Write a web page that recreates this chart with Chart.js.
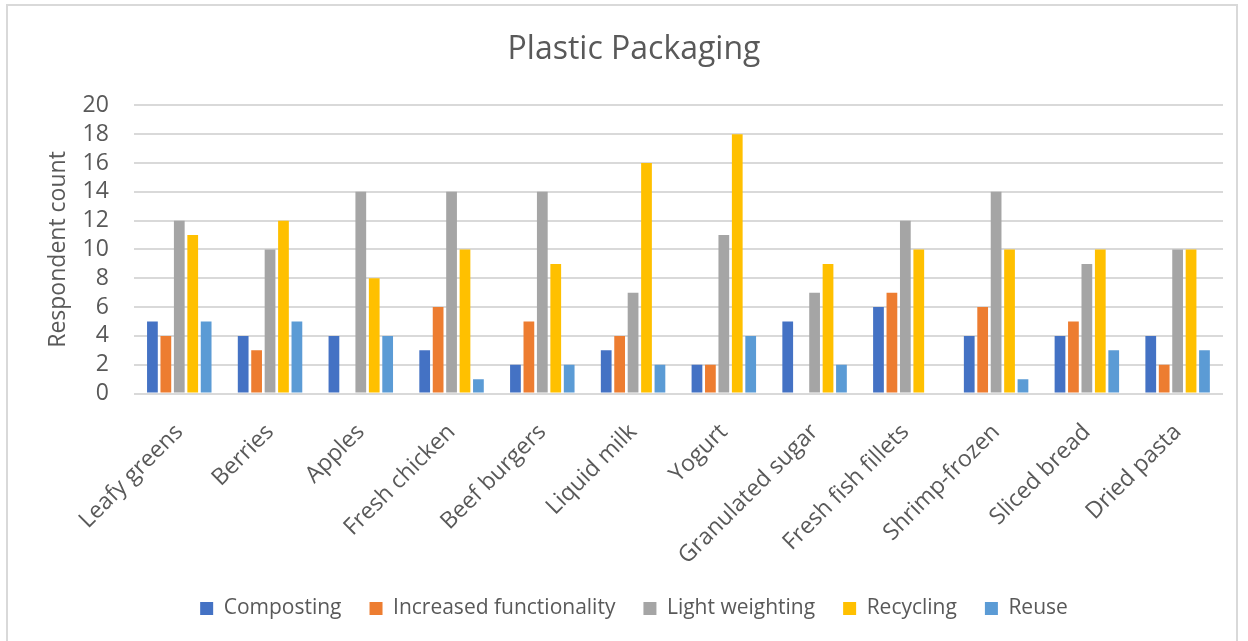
<!DOCTYPE html>
<html>
<head>
<meta charset="utf-8">
<script src="https://cdn.jsdelivr.net/npm/chart.js@4.4.1/dist/chart.umd.min.js"></script>
<style>
  html, body { margin: 0; padding: 0; background: #fff; }
  #frame {
    position: absolute; left: 6px; top: 4px; width: 1232px; height: 660px;
    border: 2px solid #d9d9d9; box-sizing: border-box;
  }
  #wrap { position: absolute; left: 0; top: 0; width: 1248px; height: 641px; }
</style>
</head>
<body>
<div id="frame"></div>
<div id="wrap"><canvas id="graphCanvas" width="1248" height="641"></canvas></div>
<script>
// categories and responses per packaging strategy
var foods = ['Leafy greens', 'Berries', 'Apples', 'Fresh chicken', 'Beef burgers', 'Liquid milk',
	'Yogurt', 'Granulated sugar', 'Fresh fish fillets', 'Shrimp-frozen', 'Sliced bread', 'Dried pasta'];

var composting    = [5, 4, 4, 3, 2, 3, 2, 5, 6, 4, 4, 4];
var functionality = [4, 3, 0, 6, 5, 4, 2, 0, 7, 6, 5, 2];
var lightWeight   = [12, 10, 14, 14, 14, 7, 11, 7, 12, 14, 9, 10];
var recycling     = [11, 12, 8, 10, 9, 16, 18, 9, 10, 10, 10, 10];
var reuse         = [5, 5, 4, 1, 2, 2, 4, 2, 0, 1, 3, 3];

var yTicks = [0, 2, 4, 6, 8, 10, 12, 14, 16, 18, 20];

let plotColors = {
	composting: '#4472C4',
	functionality: '#ED7D31',
	lightWeight: '#A5A5A5',
	recycling: '#FFC000',
	reuse: '#5B9BD5'
};

let textColor = '#595959';
let gridColor = '#d9d9d9';
let fontFamily = '"Open Sans", "Noto Sans", sans-serif';

var makeSet = function (label, data, color) {
	return {
		label: label,
		data: data,
		backgroundColor: color,
		borderWidth: 0,
		barPercentage: 0.8,
		categoryPercentage: 0.74
	};
};

Chart.defaults.font.family = fontFamily;
Chart.defaults.color = textColor;

var graphSettings = {
	type: 'bar',
	data: {
		labels: foods,
		datasets: [
			makeSet('Composting', composting, plotColors.composting),
			makeSet('Increased functionality', functionality, plotColors.functionality),
			makeSet('Light weighting', lightWeight, plotColors.lightWeight),
			makeSet('Recycling', recycling, plotColors.recycling),
			makeSet('Reuse', reuse, plotColors.reuse)
		]
	},
	options: {
		responsive: false,
		animation: false,
		layout: { padding: { left: 45, right: 25, top: 31, bottom: 12 } },
		scales: {
			x: {
				grid: { display: false, drawTicks: false },
				border: { display: false },
				// fit() reserves tick padding twice; give the extra back to the plot
				afterFit: function (axis) {
					axis.paddingLeft = 0;
					axis.paddingRight = 0;
					axis.height = axis.height - 25;
				},
				ticks: {
					minRotation: 45,
					maxRotation: 45,
					autoSkip: false,
					padding: 25,
					color: textColor,
					font: { size: 23 }
				}
			},
			y: {
				min: 0,
				max: 20,
				afterBuildTicks: function (axis) {
					axis.ticks = yTicks.map(function (v) { return { value: v }; });
				},
				afterFit: function (axis) {
					axis.width = axis.width - 25;
				},
				grid: { color: gridColor, lineWidth: 2, drawTicks: false },
				border: { display: false },
				ticks: {
					autoSkip: false,
					padding: 25,
					color: textColor,
					font: { size: 23 }
				},
				title: {
					display: true,
					text: 'Respondent count',
					color: textColor,
					font: { size: 23 },
					padding: { top: 0, bottom: 10 }
				}
			}
		},
		plugins: {
			title: {
				display: true,
				text: 'Plastic Packaging',
				color: textColor,
				font: { size: 32, weight: 'normal' },
				padding: { top: 0, bottom: 36 }
			},
			legend: {
				position: 'bottom',
				labels: {
					boxWidth: 13,
					boxHeight: 13,
					padding: 28,
					color: textColor,
					font: { size: 21 }
				}
			},
			tooltip: { enabled: false }
		}
	}
};

var theGraph = new Chart(document.getElementById('graphCanvas'), graphSettings);
</script>
</body>
</html>
